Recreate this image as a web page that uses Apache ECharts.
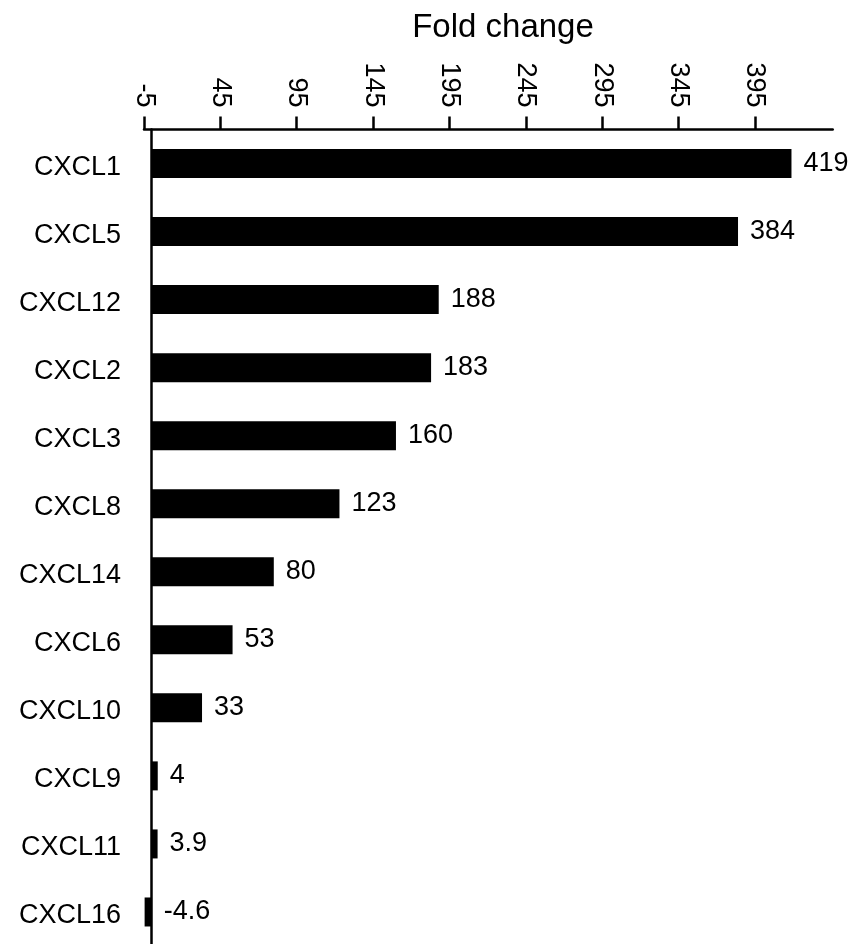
<!DOCTYPE html>
<html>
<head>
<meta charset="utf-8">
<script src="https://cdn.jsdelivr.net/npm/echarts@6/dist/echarts.min.js"></script>
<style>
html,body{margin:0;padding:0;background:#fff;}
#chart{width:857px;height:944px;}
</style>
</head>
<body>
<div id="chart"></div>
<script>
const categories = ['CXCL1','CXCL5','CXCL12','CXCL2','CXCL3','CXCL8','CXCL14','CXCL6','CXCL10','CXCL9','CXCL11','CXCL16'];
const foldChange = [419, 384, 188, 183, 160, 123, 80, 53, 33, 4, 3.9, -4.6];
const tickValues = [-5, 45, 95, 145, 195, 245, 295, 345, 395];

const FONT = '"Liberation Sans", Arial, Helvetica, sans-serif';
const chart = echarts.init(document.getElementById('chart'));
chart.setOption({
  backgroundColor: '#fff',
  animation: false,
  title: {
    text: 'Fold change',
    left: 498,
    top: 6,
    textAlign: 'center',
    textStyle: {fontFamily: FONT, fontSize: 33, fontWeight: 'normal', color: '#000'}
  },
  grid: {left: 144, right: 24.3, top: 129.5, bottom: -2, containLabel: false, outerBoundsMode: 'none'},
  xAxis: {
    type: 'value',
    position: 'top',
    min: -5,
    max: 446,
    interval: 50,
    splitLine: {show: false},
    axisLine: {show: true, onZero: false, lineStyle: {color: '#000', width: 2.5}},
    axisTick: {show: true, inside: false, length: 13, lineStyle: {color: '#000', width: 2.5}, customValues: tickValues},
    axisLabel: {
      rotate: 90, margin: 22, fontFamily: FONT, fontSize: 27, color: '#000',
      customValues: tickValues,
      formatter: function (v) { return tickValues.indexOf(v) >= 0 ? String(v) : ''; }
    }
  },
  yAxis: {
    type: 'category',
    inverse: true,
    data: categories,
    axisTick: {show: false},
    axisLine: {show: true, onZero: true, lineStyle: {color: '#000', width: 2.5}},
    axisLabel: {
      margin: 23, fontFamily: FONT, fontSize: 27, color: '#000',
      formatter: function (v) { return '{a|' + v + '}'; },
      rich: {a: {fontFamily: FONT, fontSize: 27, color: '#000', padding: [8, 0, 0, 0]}}
    }
  },
  series: [{
    type: 'bar',
    data: foldChange,
    barWidth: 29,
    itemStyle: {color: '#000'},
    label: {show: true, position: 'right', distance: 12, fontFamily: FONT, fontSize: 27, color: '#000'}
  }]
});
</script>
</body>
</html>
